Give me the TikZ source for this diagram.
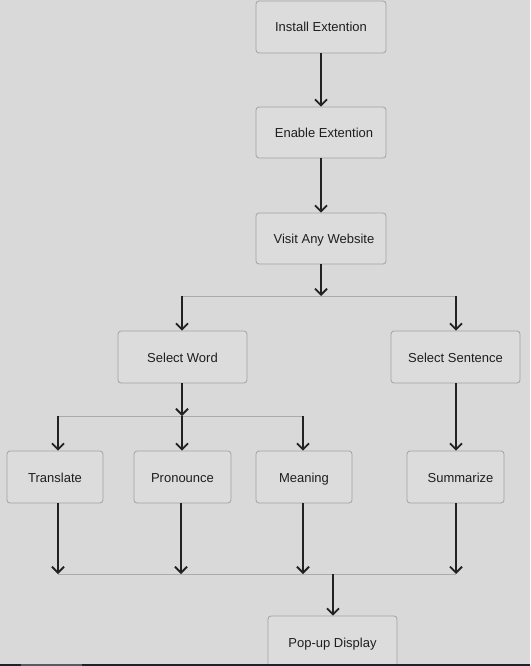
\documentclass[tikz,border=0pt]{standalone}
\usepackage{fontspec}
\setmainfont{Liberation Sans}
\usetikzlibrary{arrows.meta}
\definecolor{bg}{HTML}{D9D9D9}
\definecolor{boxfill}{HTML}{DCDCDC}
\definecolor{boxline}{HTML}{A2A2A2}
\definecolor{linec}{HTML}{ABABAB}
\definecolor{arrc}{HTML}{222222}
\definecolor{txt}{HTML}{1E1E1E}
\definecolor{barc}{HTML}{1E2230}
\definecolor{barl}{HTML}{555A66}
\begin{document}
\begin{tikzpicture}[x=1pt,y=-1pt,
  box/.style={draw=boxline, fill=boxfill, rounded corners=3pt, line width=0.8pt,
    minimum height=52pt, inner sep=0pt, text height=12.5pt, text depth=2.5pt,
    font=\fontsize{13}{15}\selectfont, text=txt},
  arr/.style={draw=arrc, line width=1.8pt, -{Straight Barb[length=6pt,width=12pt]}},
  link/.style={draw=linec, line width=0.8pt}]
\fill[bg] (0,0) rectangle (530,666);
\useasboundingbox (0,0) rectangle (530,666);

\node[box, minimum width=130pt] (ins) at (321,27) {Install Extention};
\node[box, minimum width=130pt, minimum height=51pt] (en) at (321,132.5) {\hspace{6pt}Enable Extention};
\node[box, minimum width=130pt, minimum height=51pt] (vis) at (321,238.5) {\hspace{6pt}Visit Any Website};
\node[box, minimum width=129pt] (sw) at (182.5,357) {Select Word};
\node[box, minimum width=129pt] (ss) at (455.5,357) {Select Sentence};
\node[box, minimum width=96pt] (tr) at (55,477) {Translate};
\node[box, minimum width=97pt] (pr) at (182.5,477) {Pronounce};
\node[box, minimum width=96pt] (me) at (304,477) {Meaning};
\node[box, minimum width=97pt] (su) at (455.5,477) {\hspace{10pt}Summarize};
\node[box, minimum width=129pt] (pop) at (332.5,642) {Pop-up Display};

\coordinate (j1) at (321,296);
\coordinate (j1l) at (182,296);
\coordinate (j1r) at (456,296);
\coordinate (j2) at (182,416);
\coordinate (j2l) at (58,416);
\coordinate (j2r) at (303,416);
\coordinate (j3l) at (58,574);
\coordinate (j3a) at (181,574);
\coordinate (j3b) at (303,574);
\coordinate (j3r) at (456,574);
\coordinate (j3) at (333,574);

\draw[link] (j1l) -- (j1r);
\draw[link] (j2l) -- (j2r);
\draw[link] (j3l) -- (j3r);

\draw[arr] (ins) -- (en);
\draw[arr] (en) -- (vis);
\draw[arr] (vis) -- (j1);
\draw[arr] (j1l) -- (j1l |- sw.north);
\draw[arr] (j1r) -- (j1r |- ss.north);
\draw[arr] (sw.south -| j2) -- (j2);
\draw[arr] (ss.south -| j1r) -- (j1r |- su.north);
\draw[arr] (j2l) -- (j2l |- tr.north);
\draw[arr] (j2) -- (j2 |- pr.north);
\draw[arr] (j2r) -- (j2r |- me.north);
\draw[arr] (tr.south -| j3l) -- (j3l);
\draw[arr] (pr.south -| j3a) -- (j3a);
\draw[arr] (me.south -| j3b) -- (j3b);
\draw[arr] (su.south -| j3r) -- (j3r);
\draw[arr] (j3) -- (j3 |- pop.north);

\fill[barc] (0,663.5) rectangle (530,666);
\fill[barl] (21,663.5) rectangle (82,666);
\end{tikzpicture}
\end{document}
